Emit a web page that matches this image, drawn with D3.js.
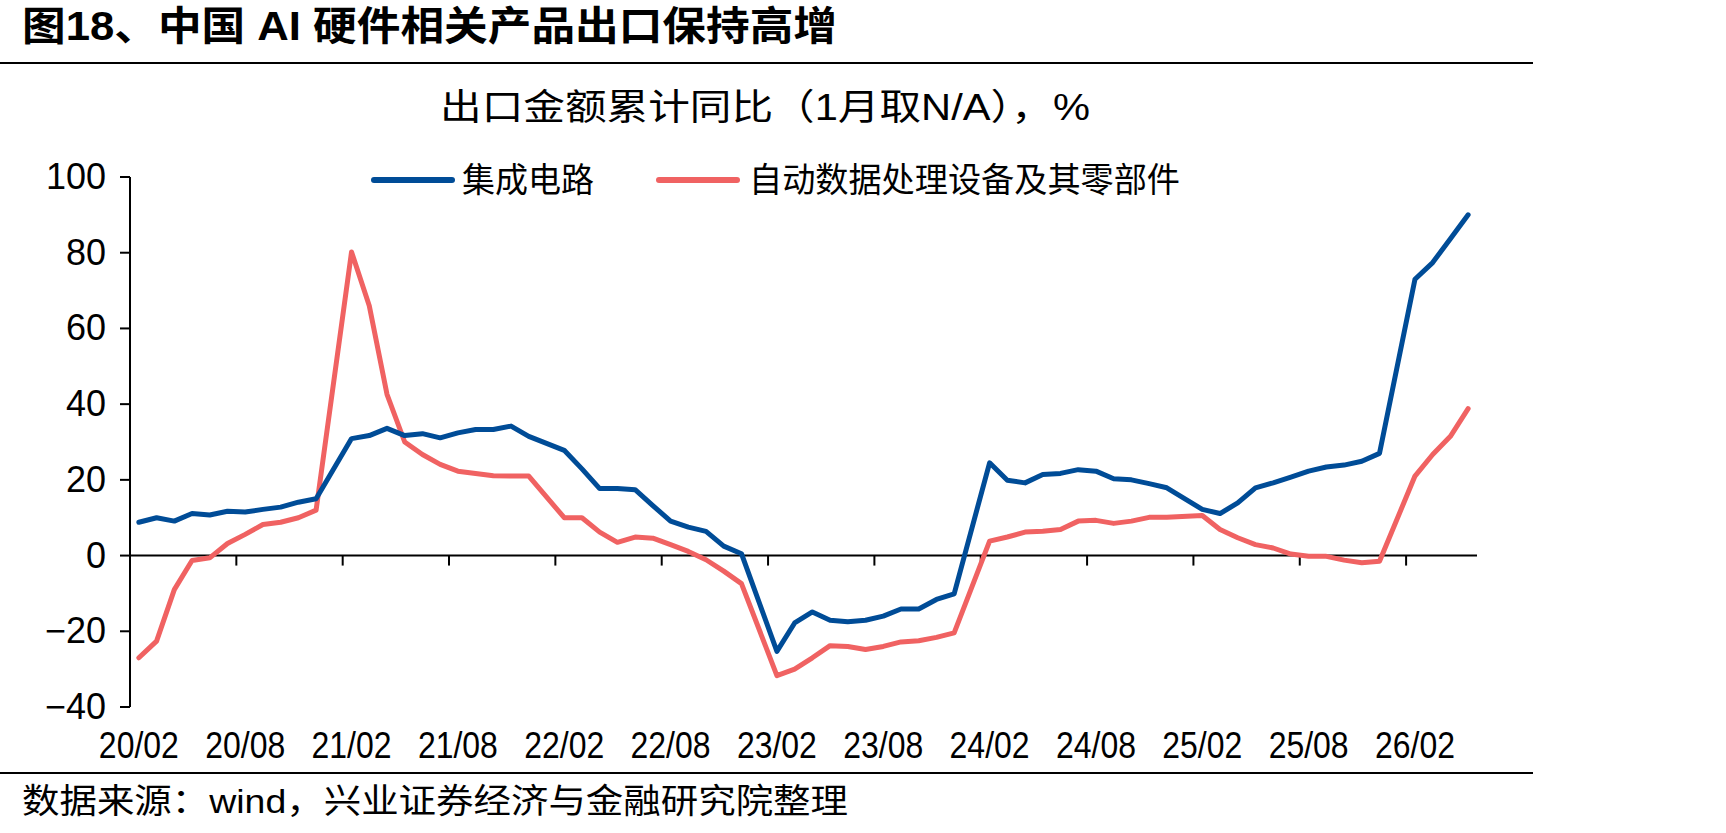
<!DOCTYPE html>
<html>
<head>
<meta charset="utf-8">
<script src="https://cdn.jsdelivr.net/npm/d3@7"></script>
<style>
  body { margin: 0; background: #fff; }
  svg { display: block; }
</style>
</head>
<body>
<div id="chart"></div>
<script>
// months on the category axis (January is N/A in cumulative data)
const months = [
  "20/02","20/03","20/04","20/05","20/06","20/07","20/08","20/09","20/10","20/11","20/12",
  "21/01","21/02","21/03","21/04","21/05","21/06","21/07","21/08","21/09","21/10","21/11","21/12",
  "22/01","22/02","22/03","22/04","22/05","22/06","22/07","22/08","22/09","22/10","22/11","22/12",
  "23/01","23/02","23/03","23/04","23/05","23/06","23/07","23/08","23/09","23/10","23/11","23/12",
  "24/01","24/02","24/03","24/04","24/05","24/06","24/07","24/08","24/09","24/10","24/11","24/12",
  "25/01","25/02","25/03","25/04","25/05","25/06","25/07","25/08","25/09","25/10","25/11","25/12",
  "26/01","26/02","26/03","26/04","26/05"
];

// 集成电路
const icValues = [
  8.8, 10.0, 9.1, 11.1, 10.7, 11.7, 11.5, 12.2, 12.8, 14.1, 15.0,
  null, 30.9, 31.7, 33.6, 31.7, 32.2, 31.1, 32.4, 33.3, 33.3, 34.2, 31.5,
  null, 27.8, 22.9, 17.7, 17.7, 17.4, 13.2, 9.1, 7.5, 6.4, 2.5, 0.5,
  null, -25.3, -17.8, -14.9, -17.1, -17.5, -17.1, -16.0, -14.1, -14.1, -11.6, -10.1,
  null, 24.5, 19.9, 19.2, 21.4, 21.7, 22.7, 22.3, 20.3, 20.0, 19.0, 17.9,
  null, 12.2, 11.1, 13.9, 17.9, 19.2, 20.7, 22.3, 23.4, 23.9, 24.9, 27.0,
  null, 73.0, 77.4, 83.7, 90.0
];

// 自动数据处理设备及其零部件
const adpValues = [
  -27.0, -22.6, -9.0, -1.3, -0.6, 3.2, 5.6, 8.2, 8.8, 10.0, 12.0,
  null, 80.2, 66.0, 42.6, 30.0, 26.7, 24.1, 22.3, 21.7, 21.1, 21.0, 21.0,
  null, 10.0, 10.0, 6.2, 3.5, 4.9, 4.6, 2.9, 1.1, -1.1, -4.1, -7.4,
  null, -31.7, -30.0, -27.0, -23.8, -24.0, -24.8, -24.0, -22.8, -22.5, -21.6, -20.4,
  null, 3.8, 4.9, 6.2, 6.4, 6.9, 9.1, 9.3, 8.5, 9.1, 10.1, 10.1,
  null, 10.6, 6.9, 4.7, 2.9, 2.0, 0.4, -0.2, -0.2, -1.2, -1.9, -1.5,
  null, 21.0, 26.7, 31.5, 38.8
];

const seriesNames = ["集成电路", "自动数据处理设备及其零部件"];
const yTicks = [-40, -20, 0, 20, 40, 60, 80, 100];
const xTickLabels = ["20/02","20/08","21/02","21/08","22/02","22/08","23/02","23/08","24/02","24/08","25/02","25/08","26/02"];

const width = 1726;
const height = 833;
const blue = "#004c97";
const red = "#f06262";
const latin = "'Liberation Sans', Arial, 'Noto Sans CJK SC', sans-serif";

const svg = d3.select("#chart")
  .append("svg")
  .attr("width", width)
  .attr("height", height);

// title + rules
svg.append("text")
  .attr("x", 22).attr("y", 40)
  .attr("font-family", latin)
  .attr("font-size", 40).attr("font-weight", "bold")
  .attr("textLength", 815).attr("lengthAdjust", "spacingAndGlyphs")
  .text("图18、中国 AI 硬件相关产品出口保持高增");

svg.append("line").attr("x1", 0).attr("x2", 1533).attr("y1", 63).attr("y2", 63)
  .attr("stroke", "#000").attr("stroke-width", 2);
svg.append("line").attr("x1", 0).attr("x2", 1533).attr("y1", 773).attr("y2", 773)
  .attr("stroke", "#000").attr("stroke-width", 2);

svg.append("text")
  .attr("x", 765).attr("y", 120)
  .attr("text-anchor", "middle")
  .attr("font-family", latin).attr("font-size", 36)
  .attr("textLength", 650).attr("lengthAdjust", "spacingAndGlyphs")
  .text("出口金额累计同比（1月取N/A），%");

svg.append("text")
  .attr("x", 22).attr("y", 813)
  .attr("font-family", latin).attr("font-size", 34)
  .attr("textLength", 826).attr("lengthAdjust", "spacingAndGlyphs")
  .text("数据来源：wind，兴业证券经济与金融研究院整理");

// scales
const x = d3.scaleBand().domain(months).range([130, 1477]).padding(0);
const y = d3.scaleLinear().domain([-40, 100]).range([707, 177]);
const bw = x.bandwidth();

// y axis
svg.append("line")
  .attr("x1", 130).attr("x2", 130)
  .attr("y1", y(100)).attr("y2", y(-40))
  .attr("stroke", "#000").attr("stroke-width", 2);

const yt = svg.append("g");
yt.selectAll("line").data(yTicks).join("line")
  .attr("x1", 120).attr("x2", 130)
  .attr("y1", d => y(d)).attr("y2", d => y(d))
  .attr("stroke", "#000").attr("stroke-width", 2);
yt.selectAll("text").data(yTicks).join("text")
  .attr("x", 106).attr("y", d => y(d) + 12)
  .attr("text-anchor", "end")
  .attr("font-family", latin).attr("font-size", 36)
  .text(d => d < 0 ? "\u2212" + Math.abs(d) : d);

// x axis at zero
svg.append("line")
  .attr("x1", 130).attr("x2", 1477)
  .attr("y1", y(0)).attr("y2", y(0))
  .attr("stroke", "#000").attr("stroke-width", 2);

const xt = svg.append("g");
xt.selectAll("line").data(xTickLabels.slice(1)).join("line")
  .attr("x1", d => x(d)).attr("x2", d => x(d))
  .attr("y1", y(0)).attr("y2", y(0) + 10)
  .attr("stroke", "#000").attr("stroke-width", 2);
xt.selectAll("text").data(xTickLabels).join("text")
  .attr("x", d => x(d) + bw / 2).attr("y", 758)
  .attr("text-anchor", "middle")
  .attr("font-family", latin).attr("font-size", 36)
  .attr("textLength", 80).attr("lengthAdjust", "spacingAndGlyphs")
  .text(d => d);

// lines (January gaps are bridged, as in the source chart)
const line = d3.line()
  .x(d => x(d.m) + bw / 2)
  .y(d => y(d.v));

const toPoints = vals => months
  .map((m, i) => ({ m: m, v: vals[i] }))
  .filter(d => d.v !== null);

svg.append("path")
  .datum(toPoints(adpValues))
  .attr("d", line)
  .attr("fill", "none").attr("stroke", red)
  .attr("stroke-width", 5).attr("stroke-linejoin", "round").attr("stroke-linecap", "round");

svg.append("path")
  .datum(toPoints(icValues))
  .attr("d", line)
  .attr("fill", "none").attr("stroke", blue)
  .attr("stroke-width", 5).attr("stroke-linejoin", "round").attr("stroke-linecap", "round");

// legend
const legend = [
  { name: seriesNames[0], color: blue, x0: 374, x1: 452, tx: 462, tw: 132 },
  { name: seriesNames[1], color: red, x0: 659, x1: 737, tx: 749, tw: 431 }
];
const lg = svg.append("g");
lg.selectAll("line").data(legend).join("line")
  .attr("x1", d => d.x0).attr("x2", d => d.x1)
  .attr("y1", 180).attr("y2", 180)
  .attr("stroke", d => d.color).attr("stroke-width", 6).attr("stroke-linecap", "round");
lg.selectAll("text").data(legend).join("text")
  .attr("x", d => d.tx).attr("y", 192)
  .attr("font-family", latin).attr("font-size", 34)
  .attr("textLength", d => d.tw).attr("lengthAdjust", "spacingAndGlyphs")
  .text(d => d.name);
</script>
</body>
</html>
